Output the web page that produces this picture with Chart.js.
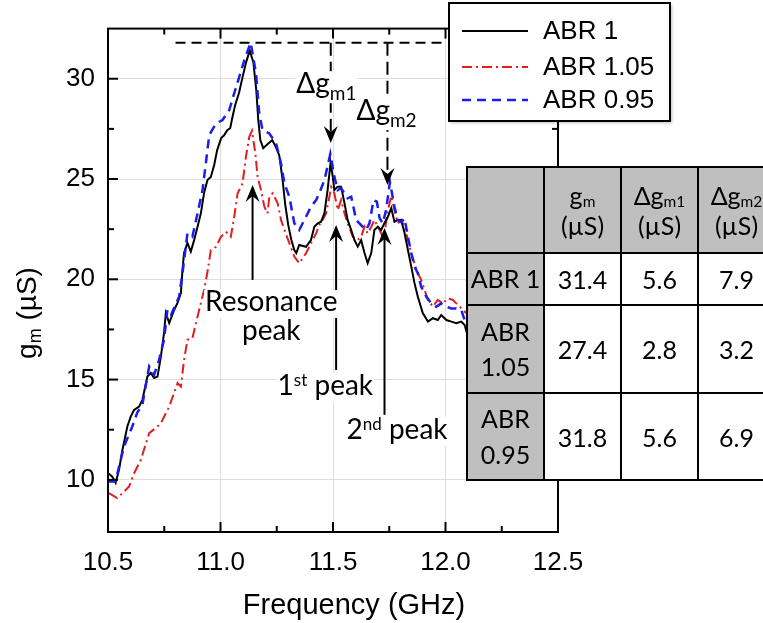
<!DOCTYPE html>
<html>
<head>
<meta charset="utf-8">
<script src="https://cdn.jsdelivr.net/npm/chart.js@4.4.1/dist/chart.umd.min.js"></script>
<style>
  html, body { margin: 0; padding: 0; background: #fff; overflow: hidden; }
  #wrap { position: relative; width: 763px; height: 623px; overflow: hidden; }
  #tbl { position: absolute; left: 466px; top: 166px; width: 310px; border-collapse: collapse; table-layout: fixed;
         font-family: Lato, "Open Sans", sans-serif; font-size: 25px; color: #000; }
  #tbl td { border: 2px solid #000; text-align: center; vertical-align: middle; padding: 0; background: #fff;
            line-height: 1.2; overflow: hidden; white-space: nowrap; }
  #tbl td.g { background: #bfbfbf; }
  #tbl td.nm { line-height: 1.42; }
  #tbl sub { font-size: 0.62em; vertical-align: baseline; position: relative; top: 0.1em; }
</style>
</head>
<body>
<div id="wrap">
  <canvas id="chart" width="763" height="623"></canvas>
  <table id="tbl"></table>
</div>
<script>
// ABR 1 (black)
const freqAbr1 = [10.501,10.519,10.534,10.549,10.564,10.586,10.601,10.616,10.638,10.653,
  10.675,10.690,10.705,10.720,10.735,10.749,10.757,10.772,10.794,10.809,
  10.824,10.831,10.838,10.853,10.868,10.883,10.898,10.913,10.927,10.942,
  10.957,10.972,10.985,11.003,11.016,11.030,11.043,11.052,11.065,11.083,
  11.097,11.114,11.130,11.146,11.159,11.168,11.177,11.190,11.204,11.230,
  11.244,11.261,11.275,11.288,11.301,11.315,11.328,11.337,11.350,11.380,
  11.402,11.417,11.432,11.447,11.462,11.476,11.489,11.499,11.506,11.521,
  11.536,11.551,11.565,11.581,11.595,11.610,11.625,11.640,11.654,11.670,
  11.684,11.699,11.714,11.729,11.744,11.759,11.773,11.788,11.803,11.818,
  11.833,11.848,11.862,11.877,11.899,11.922,11.944,11.966,11.981,12.004,
  12.026,12.048,12.070,12.085,12.100];
const gmAbr1 = [10.33,10.16,9.85,10.50,11.49,12.66,13.15,13.49,13.65,13.99,
  15.15,15.33,15.08,15.15,16.14,17.32,18.32,17.82,18.47,18.82,
  19.32,20.46,21.31,21.81,21.38,21.96,22.62,23.30,24.30,24.95,
  25.10,25.70,26.44,27.04,27.18,27.43,27.53,28.03,28.68,29.33,
  30.03,30.83,31.40,30.83,29.43,27.94,26.94,26.54,26.69,26.94,
  26.64,26.19,25.05,23.70,22.71,21.96,21.46,21.31,21.71,21.62,
  21.96,22.62,22.79,22.87,23.30,24.45,25.80,25.11,24.45,24.62,
  24.62,23.80,22.96,22.46,21.96,21.63,21.96,21.31,20.81,21.31,
  22.46,22.62,22.46,22.81,23.12,23.55,22.87,22.96,22.96,22.31,
  21.46,20.63,19.82,19.13,18.32,17.89,18.06,17.97,18.22,17.97,
  17.89,17.81,17.89,17.72,17.14];

// ABR 1.05 (red)
const freqAbr105 = [10.504,10.541,10.564,10.594,10.616,10.646,10.683,10.712,10.735,10.772,
  10.809,10.824,10.838,10.853,10.875,10.905,10.927,10.942,10.957,10.980,
  11.002,11.024,11.046,11.061,11.076,11.098,11.113,11.128,11.140,11.155,
  11.165,11.180,11.195,11.209,11.217,11.232,11.254,11.269,11.284,11.306,
  11.328,11.350,11.380,11.402,11.425,11.439,11.454,11.469,11.484,11.492,
  11.506,11.521,11.536,11.551,11.565,11.588,11.610,11.625,11.640,11.654,
  11.670,11.684,11.707,11.721,11.733,11.744,11.759,11.773,11.788,11.803,
  11.818,11.833,11.848,11.862,11.877,11.892,11.907,11.922,11.944,11.966,
  11.988,12.011,12.033,12.048,12.063,12.077,12.093];
const gmAbr105 = [9.34,9.09,9.34,9.67,10.33,11.00,12.33,12.58,12.83,13.65,
  14.82,14.65,15.98,16.98,17.06,18.47,19.47,20.36,21.46,21.62,
  22.12,22.37,22.12,23.12,24.29,24.78,26.11,27.10,27.40,26.28,
  25.10,24.45,23.62,23.29,24.12,24.29,23.79,22.96,22.46,21.80,
  21.13,20.80,21.30,21.79,22.29,22.71,22.96,23.29,24.12,24.60,
  24.29,23.45,23.95,23.29,22.79,22.12,21.96,22.12,22.62,22.29,
  22.62,22.96,22.46,22.12,22.62,23.45,24.15,23.45,22.79,22.96,
  22.62,21.96,21.30,20.80,20.30,19.97,19.47,18.97,18.64,18.97,
  18.80,19.05,18.97,18.80,18.64,18.47,18.31];

// ABR 0.95 (blue)
const freqAbr095 = [10.500,10.534,10.549,10.571,10.608,10.630,10.653,10.683,10.705,10.727,
  10.749,10.764,10.780,10.816,10.831,10.853,10.875,10.898,10.920,10.935,
  10.950,10.980,11.009,11.039,11.057,11.083,11.106,11.134,11.158,11.172,
  11.187,11.217,11.247,11.269,11.284,11.306,11.328,11.350,11.380,11.402,
  11.425,11.439,11.462,11.488,11.506,11.521,11.536,11.565,11.581,11.603,
  11.632,11.647,11.662,11.680,11.695,11.707,11.721,11.736,11.753,11.773,
  11.788,11.803,11.818,11.833,11.848,11.862,11.877,11.892,11.915,11.937,
  11.959,11.981,12.004,12.026,12.048,12.070,12.085,12.100];
const gmAbr095 = [9.92,9.92,10.66,11.66,12.66,13.35,13.76,15.65,15.24,15.98,
  16.98,18.47,18.22,19.13,20.30,22.29,22.12,23.29,24.45,25.80,
  27.19,27.77,27.94,28.44,29.13,30.08,30.93,31.80,30.26,28.27,
  27.44,27.27,26.78,25.78,24.78,24.12,22.79,22.46,23.12,23.62,
  23.95,24.29,24.95,26.25,25.12,24.45,24.54,24.04,24.12,22.95,
  22.62,22.46,22.79,23.95,23.87,23.05,22.79,23.45,24.85,23.62,
  22.95,22.85,23.04,22.12,21.30,20.63,20.30,19.63,19.13,18.80,
  18.63,18.80,18.63,18.55,18.55,18.47,17.97,17.47];

const seriesNames = ["ABR 1", "ABR 1.05", "ABR 0.95"];
const xTickValues = [10.5,10.75,11.0,11.25,11.5,11.75,12.0,12.25,12.5];
const yTickValues = [10,12.5,15,17.5,20,22.5,25,27.5,30];

// table values
const rowNames = ["ABR 1", "ABR<br>1.05", "ABR<br>0.95"];
const gmPeak = [31.4, 27.4, 31.8];
const dgm1 = [5.6, 2.8, 5.6];
const dgm2 = [7.9, 3.2, 6.9];

const arial = '"Liberation Sans", Arial, sans-serif';
const cal = 'Lato, "Open Sans", sans-serif';

// build table
const tbl = document.getElementById("tbl");
let html = '<colgroup><col style="width:77px"><col style="width:77px"><col style="width:77px"><col style="width:77px"></colgroup>' +
  '<tr style="height:86px"><td class="g"></td>' +
  '<td class="g">g<sub>m</sub><br>(\u00b5S)</td>' +
  '<td class="g">\u0394g<sub>m1</sub><br>(\u00b5S)</td>' +
  '<td class="g">\u0394g<sub>m2</sub><br>(\u00b5S)</td></tr>';
const rowH = [52, 88, 87];
for (let i = 0; i < rowNames.length; i++) {
  html += '<tr style="height:' + rowH[i] + 'px"><td class="g nm">' + rowNames[i] + '</td><td>' +
    gmPeak[i].toFixed(1) + '</td><td>' + dgm1[i].toFixed(1) + '</td><td>' + dgm2[i].toFixed(1) + '</td></tr>';
}
tbl.innerHTML = html;

function pts(fs, vs) {
  return fs.map((f, i) => ({ x: f, y: vs[i] }));
}
function isMajor(v, step) {
  return Math.abs(v / step - Math.round(v / step)) < 1e-6;
}

// annotation positions (data units)
const refLevel = gmPeak[2];
const refLine = { from: 10.80, to: 11.99 };
const dropArrows = [
  { f: 11.49, tip: 26.8, sub: "m1", lf: 11.337, lv: 29.28 },
  { f: 11.742, tip: 24.7, sub: "m2", lf: 11.604, lv: 27.94 }
];
const upArrows = [
  { f: 11.1425, from: 19.97, tip: 24.70 },
  { f: 11.5138, from: 15.48, tip: 22.71 },
  { f: 11.7289, from: 13.24, tip: 22.56 }
];

function arrowHead(ctx, x, yTip, dir) {
  ctx.beginPath();
  ctx.moveTo(x, yTip);
  ctx.lineTo(x - 7, yTip - dir * 17);
  ctx.lineTo(x, yTip - dir * 11);
  ctx.lineTo(x + 7, yTip - dir * 17);
  ctx.closePath();
  ctx.fill();
}
function seg(ctx, x1, y1, x2, y2) {
  ctx.beginPath();
  ctx.moveTo(x1, y1);
  ctx.lineTo(x2, y2);
  ctx.stroke();
}
function whiteBox(ctx, x, y, w, h) {
  ctx.fillStyle = "#fff";
  ctx.fillRect(x, y, w, h);
  ctx.fillStyle = "#000";
}

const decor = {
  id: "decor",
  afterDraw(chart) {
    const { ctx, chartArea: a } = chart;
    const x = chart.scales.x, y = chart.scales.y;
    ctx.save();
    ctx.strokeStyle = "#000";
    ctx.fillStyle = "#000";
    ctx.lineWidth = 2;
    ctx.setLineDash([]);

    // frame + inward ticks
    ctx.strokeRect(a.left, a.top, a.right - a.left, a.bottom - a.top);
    xTickValues.forEach(v => {
      const px = x.getPixelForValue(v);
      const len = isMajor(v, 0.5) ? 10 : 6;
      seg(ctx, px, a.bottom, px, a.bottom - len);
      seg(ctx, px, a.top, px, a.top + len);
    });
    yTickValues.forEach(v => {
      const py = y.getPixelForValue(v);
      const len = isMajor(v, 5) ? 10 : 6;
      seg(ctx, a.left, py, a.left + len, py);
      seg(ctx, a.right, py, a.right - len, py);
    });

    // axis titles
    ctx.textBaseline = "alphabetic";
    ctx.font = "29px " + arial;
    ctx.textAlign = "center";
    ctx.fillText("Frequency (GHz)", 354, 614);

    ctx.save();
    ctx.translate(36, 313);
    ctx.rotate(-Math.PI / 2);
    ctx.textAlign = "left";
    ctx.font = "28px " + arial;
    const wg = ctx.measureText("g").width;
    const wr = ctx.measureText(" (\u00b5S)").width;
    ctx.font = "18px " + arial;
    const wm = ctx.measureText("m").width;
    let sx = -(wg + wm + wr) / 2;
    ctx.font = "28px " + arial;
    ctx.fillText("g", sx, 0);
    ctx.font = "18px " + arial;
    ctx.fillText("m", sx + wg, 5);
    ctx.font = "28px " + arial;
    ctx.fillText(" (\u00b5S)", sx + wg + wm, 0);
    ctx.restore();

    // reference dashed line at max g_m
    const yRef = y.getPixelForValue(refLevel);
    ctx.setLineDash([10, 6]);
    seg(ctx, x.getPixelForValue(refLine.from), yRef, x.getPixelForValue(refLine.to), yRef);

    // dashed drop arrows
    dropArrows.forEach(d => {
      const px = x.getPixelForValue(d.f);
      const tip = y.getPixelForValue(d.tip);
      ctx.setLineDash([13, 6]);
      seg(ctx, px, yRef, px, tip - 11);
      ctx.setLineDash([]);
      arrowHead(ctx, px, tip, 1);
    });

    // solid up arrows
    ctx.setLineDash([]);
    upArrows.forEach(u => {
      const px = x.getPixelForValue(u.f);
      const tip = y.getPixelForValue(u.tip);
      seg(ctx, px, y.getPixelForValue(u.from), px, tip + 11);
      arrowHead(ctx, px, tip, -1);
    });

    // labels
    ctx.textAlign = "left";
    dropArrows.forEach(d => {
      const lx = x.getPixelForValue(d.lf), ly = y.getPixelForValue(d.lv);
      ctx.font = "28px " + cal;
      const w1 = ctx.measureText("\u0394g").width;
      ctx.font = "19px " + cal;
      const w2 = ctx.measureText(d.sub).width;
      whiteBox(ctx, lx - 1, ly - 22, w1 + w2 + 2, 32);
      ctx.font = "28px " + cal;
      ctx.fillText("\u0394g", lx, ly);
      ctx.font = "19px " + cal;
      ctx.fillText(d.sub, lx + w1, ly + 7);
    });

    ctx.font = "28px " + cal;
    ctx.textAlign = "center";
    const rx = x.getPixelForValue(11.2257);
    const r1 = y.getPixelForValue(18.42), r2 = y.getPixelForValue(16.98);
    const rw = ctx.measureText("Resonance").width;
    whiteBox(ctx, rx - rw / 2 - 1, r1 - 21, rw + 2, 28);
    whiteBox(ctx, rx - 33, r2 - 21, 66, 29);
    ctx.fillText("Resonance", rx, r1);
    ctx.fillText("peak", rx, r2);

    [["1", "st", 11.466, 14.235], ["2", "nd", 11.7845, 12.04]].forEach(p => {
      ctx.textAlign = "left";
      ctx.font = "28px " + cal;
      const wa = ctx.measureText(p[0]).width;
      const wc = ctx.measureText(" peak").width;
      ctx.font = "17px " + cal;
      const wb = ctx.measureText(p[1]).width;
      const cx = x.getPixelForValue(p[2]), by = y.getPixelForValue(p[3]);
      const lx = cx - (wa + wb + wc) / 2;
      whiteBox(ctx, lx - 1, by - 22, wa + wb + wc + 2, 29);
      ctx.font = "28px " + cal;
      ctx.fillText(p[0], lx, by);
      ctx.font = "17px " + cal;
      ctx.fillText(p[1], lx + wa, by - 9);
      ctx.font = "28px " + cal;
      ctx.fillText(" peak", lx + wa + wb, by);
    });

    // legend box
    ctx.save();
    ctx.shadowColor = "rgba(0,0,0,0.25)";
    ctx.shadowBlur = 3;
    ctx.shadowOffsetX = 2;
    ctx.shadowOffsetY = 2;
    ctx.fillStyle = "#fff";
    ctx.fillRect(449, 3, 221, 118);
    ctx.restore();
    ctx.lineWidth = 2;
    ctx.strokeStyle = "#000";
    ctx.strokeRect(449, 3, 221, 118);
    const rowsY = [31, 67, 100];
    chart.data.datasets.forEach((ds, i) => {
      ctx.strokeStyle = ds.borderColor;
      ctx.lineWidth = ds.borderWidth;
      ctx.setLineDash(ds.borderDash || []);
      seg(ctx, 462, rowsY[i], 528, rowsY[i]);
      ctx.setLineDash([]);
      ctx.fillStyle = "#000";
      ctx.font = "26px " + arial;
      ctx.textAlign = "left";
      ctx.textBaseline = "middle";
      ctx.fillText(ds.label, 543, rowsY[i] + 1);
    });
    ctx.restore();
  }
};

new Chart(document.getElementById("chart"), {
  type: "line",
  data: {
    datasets: [
      { label: seriesNames[0], data: pts(freqAbr1, gmAbr1), borderColor: "#000000",
        borderWidth: 2, pointRadius: 0, tension: 0, order: 1 },
      { label: seriesNames[1], data: pts(freqAbr105, gmAbr105), borderColor: "rgb(228,28,28)",
        borderWidth: 2, borderDash: [10, 4, 2, 4], pointRadius: 0, tension: 0, order: 2 },
      { label: seriesNames[2], data: pts(freqAbr095, gmAbr095), borderColor: "rgb(28,28,235)",
        borderWidth: 2.5, borderDash: [9, 6], pointRadius: 0, tension: 0, order: 0 }
    ]
  },
  options: {
    responsive: false,
    animation: false,
    devicePixelRatio: 1,
    layout: { padding: { left: 0, top: 28, right: 205, bottom: 0 } },
    plugins: { legend: { display: false }, tooltip: { enabled: false } },
    scales: {
      x: {
        type: "linear", min: 10.5, max: 12.5,
        afterBuildTicks: s => { s.ticks = xTickValues.map(v => ({ value: v })); },
        afterFit: s => { s.height = 91; },
        ticks: {
          autoSkip: false, maxRotation: 0, padding: 15, color: "#000",
          font: { family: arial, size: 26 },
          callback: v => isMajor(v, 0.5) ? v.toFixed(1) : ""
        },
        grid: {
          drawTicks: false, lineWidth: 1,
          color: c => (c.tick && isMajor(c.tick.value, 0.5)) ? "#dddddd" : "rgba(0,0,0,0)"
        },
        border: { color: "#000", width: 2 }
      },
      y: {
        type: "linear", min: 7.4, max: 32.5,
        afterBuildTicks: s => { s.ticks = yTickValues.map(v => ({ value: v })); },
        afterFit: s => { s.width = 108; },
        ticks: {
          autoSkip: false, padding: 13, color: "#000",
          font: { family: arial, size: 26 },
          callback: v => isMajor(v, 5) ? String(v) : ""
        },
        grid: {
          drawTicks: false, lineWidth: 1,
          color: c => (c.tick && isMajor(c.tick.value, 5)) ? "#dddddd" : "rgba(0,0,0,0)"
        },
        border: { color: "#000", width: 2 }
      }
    }
  },
  plugins: [decor]
});
</script>
</body>
</html>
